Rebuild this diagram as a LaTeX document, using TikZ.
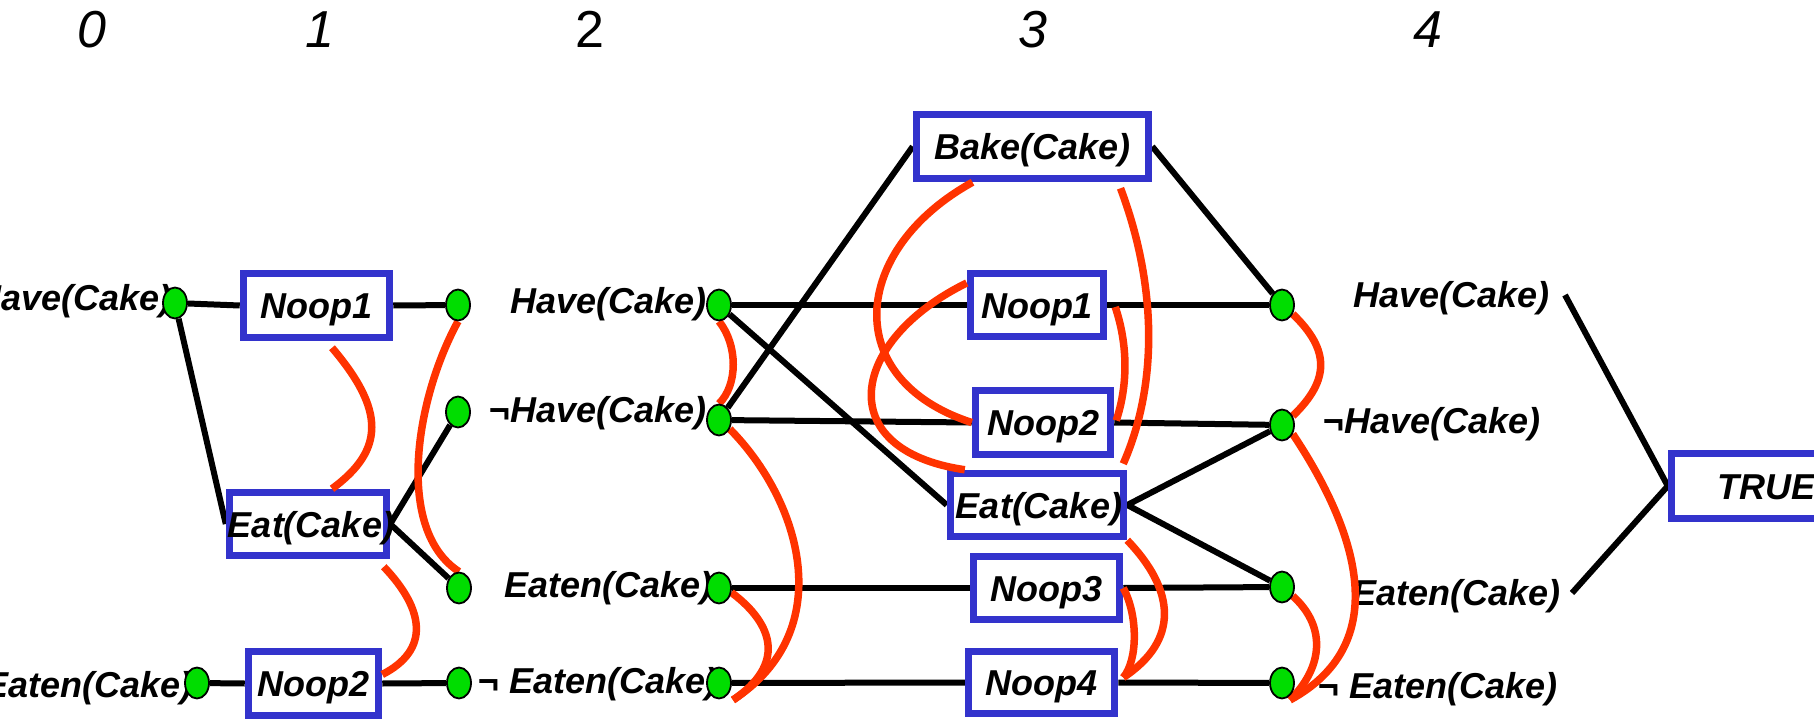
\documentclass[tikz,border=0pt]{standalone}
\usepackage{fontspec}
\setmainfont{Liberation Sans}
\usetikzlibrary{shapes.geometric,calc}
\definecolor{boxblue}{RGB}{51,51,204}
\definecolor{mutexred}{RGB}{255,51,0}
\definecolor{dotgreen}{RGB}{0,221,0}
\newcommand\pgbig{\fontsize{36}{40}\selectfont\bfseries\itshape}
\newcommand\pgnum{\fontsize{52}{56}\selectfont\itshape}
\pgfdeclarelayer{bglayer}
\pgfdeclarelayer{redlayer}
\pgfdeclarelayer{fglayer}
\pgfsetlayers{bglayer,main,redlayer,fglayer}
\begin{document}
\begin{tikzpicture}[x=1pt,y=-1pt,
  pbox/.style={draw=boxblue, line width=7.5pt, fill=white, inner sep=0pt,
    text height=26pt, text depth=0pt, font=\pgbig},
  dot/.style={ellipse, draw=black, line width=1.8pt, fill=dotgreen,
    minimum width=24pt, minimum height=31pt, inner sep=0pt},
  lbl/.style={inner sep=0pt, font=\pgbig},
  num/.style={inner sep=0pt, font=\pgnum, anchor=base},
  link/.style={line width=6pt, draw=black},
  mutex/.style={line width=7.5pt, draw=mutexred}]
\useasboundingbox (0,0) rectangle (1814,719);

% level numbers
\node[num] (t0) at (92,48) {0};
\node[num] (t1) at (320,48) {1};
\node[num] (t2) at (590,48) {\upshape 2};
\node[num] (t3) at (1033,48) {3};
\node[num] (t4) at (1428,48) {4};

% action boxes
\node[pbox, minimum width=146pt, minimum height=64pt] (n1a) at (316.5,305.5) {\makebox[0pt]{Noop1}};
\node[pbox, minimum width=157pt, minimum height=63pt] (e1) at (308,524) {\makebox[0pt]{\hspace*{6pt}Eat(Cake)}};
\node[pbox, minimum width=130pt, minimum height=64pt] (n1b) at (313.5,683.5) {\makebox[0pt]{Noop2}};
\node[pbox, minimum width=232pt, minimum height=64pt] (bake) at (1032.5,146.5) {\makebox[0pt]{Bake(Cake)}};
\node[pbox, minimum width=133pt, minimum height=63pt] (n3a) at (1037,305) {\makebox[0pt]{Noop1}};
\node[pbox, minimum width=135pt, minimum height=64pt] (n3b) at (1043,422.5) {\makebox[0pt]{Noop2}};
\node[pbox, minimum width=173pt, minimum height=63pt] (e3) at (1037,505) {\makebox[0pt]{\hspace*{4pt}Eat(Cake)}};
\node[pbox, minimum width=146pt, minimum height=63pt] (n3c) at (1046.5,588) {\makebox[0pt]{Noop3}};
\node[pbox, minimum width=146pt, minimum height=62pt] (n3d) at (1041.5,682.5) {\makebox[0pt]{Noop4}};
\node[pbox, minimum width=190pt, minimum height=65pt] (true) at (1766.5,486) {\makebox[0pt]{TRUE}};

% proposition labels
\node[lbl, anchor=base east] (l0a) at (172,310) {Have(Cake)};
\node[lbl, anchor=base east] (l0d) at (193,697) {Eaten(Cake)};
\node[lbl, anchor=base east] (l2a) at (707,313) {Have(Cake)};
\node[lbl, anchor=base east] (l2b) at (707,422) {¬Have(Cake)};
\node[lbl, anchor=base east] (l2c) at (713,597) {Eaten(Cake)};
\node[lbl, anchor=base west] (l2d) at (478,693) {¬ Eaten(Cake)};
\node[lbl, anchor=base west] (l4a) at (1353,307) {Have(Cake)};
\node[lbl, anchor=base west] (l4b) at (1323,433) {¬Have(Cake)};
\node[lbl, anchor=base west] (l4c) at (1352,605) {Eaten(Cake)};
\node[lbl, anchor=base west] (l4d) at (1318,698) {¬ Eaten(Cake)};

% proposition dots
\begin{pgfonlayer}{fglayer}
\node[dot] (d0a) at (175,303) {};
\node[dot] (d0d) at (197,683) {};
\node[dot] (d1a) at (458,305) {};
\node[dot] (d1b) at (458,412) {};
\node[dot] (d1c) at (459,588) {};
\node[dot] (d1d) at (459,683) {};
\node[dot] (d2a) at (719,305) {};
\node[dot] (d2b) at (719,420) {};
\node[dot] (d2c) at (719,588) {};
\node[dot] (d2d) at (719,683) {};
\node[dot] (d4a) at (1282,305) {};
\node[dot] (d4b) at (1282,425) {};
\node[dot] (d4c) at (1282,587) {};
\node[dot] (d4d) at (1282,683) {};
\end{pgfonlayer}

\coordinate (g1) at (1565,295);
\coordinate (g2) at (1572,593);

% black links
\begin{pgfonlayer}{bglayer}
\draw[link] (d0a) -- (n1a.west);
\draw[link] (d0a) -- (e1.west);
\draw[link] (d0d) -- (n1b.west);
\draw[link] (n1a.east) -- (d1a);
\draw[link] (e1.east) -- (d1b);
\draw[link] (e1.east) -- (d1c);
\draw[link] (n1b.east) -- (d1d);
\draw[link] (d2a) -- (n3a.west);
\draw[link] (d2a) -- (e3.west);
\draw[link] (d2b) -- (bake.west);
\draw[link] (d2b) -- (n3b.west);
\draw[link] (d2c) -- (n3c.west);
\draw[link] (d2d) -- (n3d.west);
\draw[link] (bake.east) -- (d4a);
\draw[link] (n3a.east) -- (d4a);
\draw[link] (n3b.east) -- (d4b);
\draw[link] (e3.east) -- (d4b);
\draw[link] (e3.east) -- (d4c);
\draw[link] (n3c.east) -- (d4c);
\draw[link] (n3d.east) -- (d4d);
\draw[link] (g1) -- (true.west) -- (g2);
\end{pgfonlayer}

% red mutex curves
\begin{pgfonlayer}{redlayer}
% level 1
\draw[mutex] ($(n1a.south)+(15.5,6.5)$) .. controls (385,410) and (385,450) .. ($(e1.north)+(24,0)$);
\draw[mutex] ($(e1.south east)+(-6.5,7.5)$) .. controls (425,610) and (430,650) .. ($(n1b.east)+(0,-9)$);
\draw[mutex] (d1a.south) .. controls (415,400) and (395,530) .. (d1c.north);
% level 2
\draw[mutex] (d2a.south) .. controls (738,345) and (738,385) .. (d2b.north);
\draw[mutex] (d2b.-40) .. controls (800,500) and (840,630) .. ($(d2d)+(14,17)$);
\draw[mutex] (d2c.-20) .. controls (775,625) and (785,665) .. ($(d2d)+(14,17)$);
% level 3
\draw[mutex] ($(bake.south)+(-60,0)$) .. controls (850,250) and (840,380) .. (n3b.west);
\draw[mutex] ($(n3a.west)+(0,-22)$) .. controls (850,340) and (830,450) .. ($(e3.north west)+(18,0)$);
\draw[mutex] ($(bake.south)+(88,6)$) .. controls (1155,280) and (1160,380) .. ($(e3.north east)+(-4,-6)$);
\draw[mutex] ($(n3a.east)+(8,2)$) .. controls (1128,345) and (1128,385) .. ($(n3b.east)+(2,-2)$);
\draw[mutex] (e3.south east) .. controls (1175,590) and (1180,640) .. ($(n3d.east)+(5,-5)$);
\draw[mutex] (n3c.east) .. controls (1138,615) and (1138,660) .. ($(n3d.east)+(5,-5)$);
% level 4
\draw[mutex] (d4a.-40) .. controls (1330,350) and (1330,380) .. (d4b.40);
\draw[mutex] (d4b.-40) .. controls (1350,520) and (1400,640) .. ($(d4d)+(8,17)$);
\draw[mutex] (d4c.-40) .. controls (1325,625) and (1325,665) .. ($(d4d)+(8,17)$);
\end{pgfonlayer}
\end{tikzpicture}
\end{document}
